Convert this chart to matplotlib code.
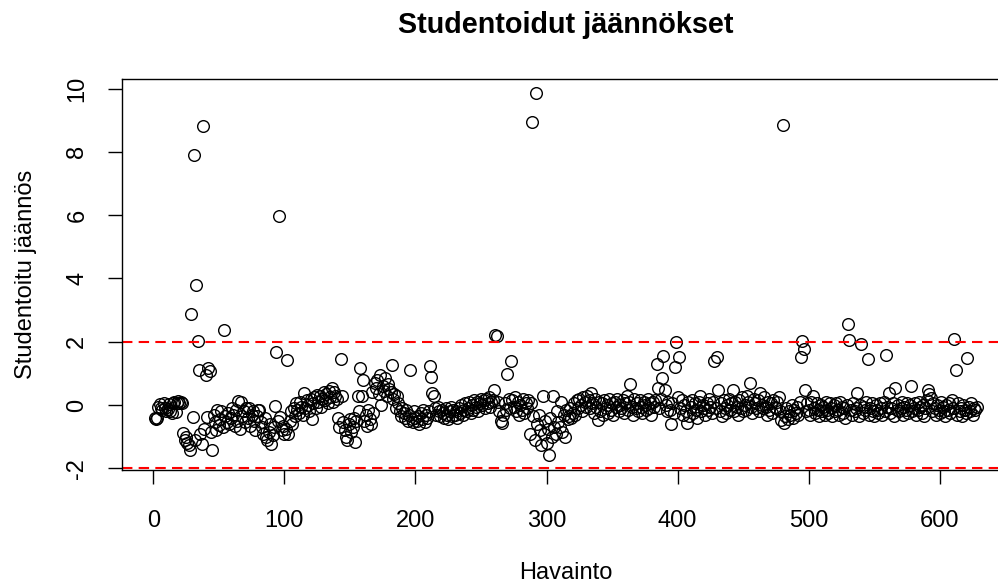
import numpy as np
import matplotlib.pyplot as plt

# studentoidut jäännökset havainnoittain, luettu kuvasta
jaannos = [
    -0.42, -0.45, -0.40, -0.05, 0.02, -0.10, -0.15, 0.05, -0.08, -0.20,
    -0.12, 0.03, -0.18, -0.25, 0.06, 0.10, -0.21, 0.08, 0.12, 0.07,
    0.10, 0.05, -0.88, -1.11, -1.02, -1.20, -1.25, -1.43, 2.88, -0.39,
    7.90, -1.10, 3.78, 2.03, 1.11, -0.90, -1.22, 8.82, -0.75, 0.95,
    -0.37, 1.18, 1.06, -0.85, -1.41, -0.30, -0.55, -0.80, -0.16, -0.62,
    -0.45, -0.20, -0.70, 2.38, -0.35, -0.55, -0.25, -0.60, -0.40, -0.08,
    -0.30, -0.65, -0.15, -0.50, 0.14, -0.75, 0.10, -0.35, -0.20, -0.55,
    -0.10, -0.40, -0.10, -0.65, -0.30, -0.20, -0.50, -0.80, -0.35, -0.15,
    -0.16, -0.55, -0.70, -0.90, -0.40, -1.00, -1.11, -0.85, -0.60, -1.22,
    -0.95, -0.70, -0.03, 1.66, -0.50, 5.96, -0.37, -0.80, -0.65, -0.90,
    -0.75, 1.43, -0.90, -0.50, -0.20, -0.60, -0.10, -0.35, 0.05, -0.15,
    -0.25, 0.10, -0.05, -0.30, 0.37, -0.10, 0.15, 0.00, -0.20, 0.20,
    -0.45, 0.05, 0.25, -0.10, 0.32, 0.10, 0.30, -0.05, 0.20, 0.40,
    0.15, 0.35, 0.05, 0.45, 0.25, 0.53, 0.10, 0.40, 0.30, 0.20,
    -0.40, -0.69, 1.46, 0.27, -0.55, -0.80, -1.00, -1.11, -0.60, -0.45,
    -0.85, -0.70, -0.40, -1.16, -0.50, 0.30, -0.20, 1.16, 0.28, 0.79,
    -0.50, -0.30, -0.65, -0.15, -0.45, -0.60, 0.40, -0.25, 0.69, 0.55,
    0.80, 0.35, 0.95, 0.00, 0.60, 0.45, 0.85, 0.30, 0.65, 0.50,
    0.40, 1.27, 0.20, 0.35, -0.10, 0.27, 0.05, -0.20, -0.35, -0.10,
    -0.25, -0.40, -0.15, -0.50, -0.30, 1.11, -0.45, -0.55, -0.20, -0.40,
    -0.50, -0.35, -0.60, -0.25, -0.45, -0.15, -0.55, -0.30, -0.40, -0.20,
    1.22, 0.90, 0.38, 0.27, -0.10, -0.30, -0.05, -0.20, -0.35, -0.15,
    -0.25, -0.40, -0.10, -0.30, -0.45, -0.20, -0.05, -0.35, -0.15, -0.30,
    -0.20, -0.40, -0.10, -0.25, 0.00, -0.30, -0.15, 0.05, -0.20, -0.10,
    0.10, -0.25, 0.00, -0.15, 0.15, -0.05, 0.10, -0.20, 0.05, 0.20,
    0.00, 0.15, -0.10, 0.20, 0.05, 0.25, -0.05, 0.10, 0.15, 0.48,
    2.22, 2.18, 0.10, -0.20, -0.50, -0.58, -0.30, 0.05, -0.15, 0.98,
    0.20, -0.10, 1.39, 0.15, -0.05, 0.25, -0.20, 0.10, -0.30, 0.00,
    -0.15, 0.20, -0.25, 0.05, -0.10, 0.15, -0.90, 0.06, 8.95, -0.35,
    -1.11, 9.85, -0.60, -0.30, -0.80, -1.27, 0.30, -0.90, -0.50, -1.20,
    -0.75, -1.58, -0.40, -1.00, 0.27, -0.69, -0.90, -0.20, -0.55, -0.69,
    0.10, -0.85, -0.30, -1.00, -0.15, -0.45, -0.35, -0.10, -0.40, -0.25,
    0.05, -0.30, 0.15, -0.10, 0.20, 0.00, -0.20, 0.25, 0.10, -0.05,
    0.30, 0.15, -0.10, 0.37, 0.05, -0.25, 0.20, -0.05, -0.48, 0.10,
    -0.20, 0.05, -0.30, 0.15, -0.10, 0.00, -0.25, 0.20, -0.15, 0.05,
    -0.30, 0.10, -0.05, 0.20, -0.20, 0.00, -0.10, 0.15, -0.25, 0.05,
    0.27, -0.15, 0.10, 0.67, -0.05, -0.32, 0.20, -0.10, 0.05, -0.20,
    0.15, -0.05, -0.25, 0.10, 0.00, -0.15, 0.20, -0.10, 0.05, -0.30,
    0.10, -0.05, 0.15, 1.29, 0.53, -0.10, 0.20, 0.85, 1.56, 0.48,
    0.00, -0.20, 0.10, -0.15, -0.60, 0.05, -0.25, 1.20, 2.00, 0.25,
    1.53, -0.10, 0.15, -0.30, 0.00, -0.20, -0.58, 0.10, -0.35, -0.05,
    0.15, -0.25, 0.05, -0.15, -0.40, 0.10, 0.27, -0.20, 0.00, -0.10,
    -0.30, 0.05, -0.15, 0.20, -0.05, -0.25, 0.10, 1.39, -0.10, 1.53,
    0.48, -0.20, 0.05, -0.35, 0.15, -0.10, -0.25, 0.00, 0.20, -0.15,
    0.05, 0.48, -0.20, 0.10, -0.05, -0.30, 0.15, -0.10, 0.25, -0.20,
    0.00, -0.15, 0.30, 0.10, 0.69, -0.05, -0.25, 0.20, 0.05, -0.10,
    0.15, -0.20, 0.39, 0.00, -0.10, 0.25, -0.05, -0.30, 0.10, -0.15,
    0.05, -0.25, 0.15, -0.05, -0.10, 0.10, 0.24, -0.20, -0.48, 8.85,
    -0.58, -0.35, -0.10, -0.45, -0.20, -0.30, 0.00, -0.40, -0.15, -0.25,
    -0.05, -0.30, 0.10, 1.51, 2.01, 1.77, 0.48, -0.20, 0.05, -0.15,
    -0.30, 0.10, 0.27, -0.10, -0.25, 0.05, -0.15, -0.35, 0.00, -0.20,
    -0.05, -0.30, 0.10, -0.15, -0.25, 0.05, -0.10, -0.35, 0.00, -0.20,
    0.05, -0.15, -0.30, 0.10, -0.05, -0.25, -0.10, -0.40, 0.00, 2.56,
    2.06, -0.15, -0.30, 0.05, -0.20, -0.10, 0.39, -0.35, 0.00, 1.94,
    -0.25, -0.05, -0.15, 0.10, 1.46, -0.30, -0.10, 0.05, -0.20, -0.35,
    0.00, -0.15, -0.25, 0.05, -0.10, -0.30, 0.10, -0.20, 1.59, -0.05,
    0.39, -0.25, -0.10, 0.05, -0.35, 0.53, -0.15, 0.00, -0.20, -0.10,
    0.10, -0.30, -0.05, -0.15, 0.05, -0.25, 0.00, 0.60, -0.20, -0.10,
    0.05, -0.30, -0.15, 0.10, -0.05, -0.25, 0.00, -0.35, -0.10, 0.15,
    0.48, 0.35, 0.22, -0.20, 0.05, -0.10, -0.30, 0.00, -0.15, -0.25,
    0.10, -0.05, -0.20, -0.35, 0.00, -0.15, 0.05, -0.25, 0.16, -0.10,
    2.08, 1.11, -0.30, 0.05, -0.20, -0.10, -0.35, 0.00, -0.15, -0.25,
    1.48, -0.05, -0.20, 0.05, -0.30, -0.10, -0.15, -0.05,
]
havainto = np.arange(1, len(jaannos) + 1)

rajat = [2, -2]
x_ticks = [0, 100, 200, 300, 400, 500, 600]
y_ticks = [-2, 0, 2, 4, 6, 8, 10]

plt.rcParams['font.family'] = ['Liberation Sans', 'DejaVu Sans']
plt.rcParams['axes.unicode_minus'] = False

fig = plt.figure(figsize=(9.98, 5.85), dpi=100)
ax = fig.add_axes([0.1219, 0.1974, 0.8896, 0.6679])

ax.plot(havainto, jaannos, 'o', ms=8.4, mfc='none', mec='black', mew=1.0)
for r in rajat:
    ax.axhline(r, color='red', ls=(0, (5, 3)), lw=1.5)

# R:n oletusrajat (4 % lisää kummallekin puolelle)
n = len(jaannos)
xp = 0.04 * (n - 1)
ax.set_xlim(1 - xp, n + xp)
ymin, ymax = min(jaannos), max(jaannos)
yp = 0.04 * (ymax - ymin)
ax.set_ylim(ymin - yp, ymax + yp)

ax.set_xticks(x_ticks)
ax.set_yticks(y_ticks)
ax.tick_params(labelsize=17, length=10, width=1.0)
ax.tick_params(axis='x', pad=19)
ax.tick_params(axis='y', pad=14)
for lab in ax.get_yticklabels():
    lab.set_rotation(90)
    lab.set_va('center')
for s in ax.spines.values():
    s.set_linewidth(1.0)

ax.set_title('Studentoidut jäännökset', fontsize=20.7, fontweight='bold', pad=33)
ax.set_xlabel('Havainto', fontsize=17, labelpad=22)
ax.set_ylabel('Studentoitu jäännös', fontsize=17, labelpad=21)

fig.savefig('out.png', dpi=100)
